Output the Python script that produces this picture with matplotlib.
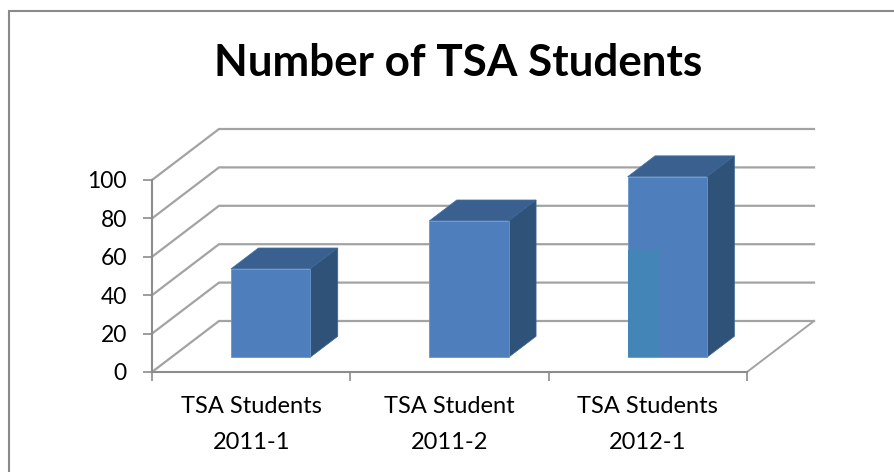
import matplotlib
matplotlib.use('Agg')
import matplotlib.pyplot as plt
from matplotlib.lines import Line2D
from matplotlib.patches import Polygon

categories = ['TSA Students\n2011-1', 'TSA Student\n2011-2', 'TSA Students\n2012-1']
values = [46, 71, 94]
# odd lighter patch at the lower left of the last bar
patch_value = 56
y_ticks = [0, 20, 40, 60, 80, 100]

W, H = 894, 472
plt.rcParams['font.family'] = ['Lato', 'DejaVu Sans']

fig = plt.figure(figsize=(W / 100, H / 100), dpi=100, facecolor='white')
# pixel box of the front plane
left, right, top, bottom = 152, 747, 180, 372
ax = fig.add_axes([left / W, 1 - bottom / H, (right - left) / W, (bottom - top) / H])
ax.set_xlim(0, 3)
ax.set_ylim(0, 100)
ax.patch.set_alpha(0)

# oblique depth of the box, in data units
depth_x = 67 / ((right - left) / 3)
depth_y = 51 / ((bottom - top) / 100)
front = 0.29
bar_depth = 0.41
bar_width = 0.40

grid_c = '#a3a3a3'
axis_c = '#8c8c8c'
for v in y_ticks:
    ax.plot([0, depth_x, 3 + depth_x], [v, v + depth_y, v + depth_y], color=grid_c, lw=1.6,
            clip_on=False, zorder=1, solid_joinstyle='miter')
ax.plot([3, 3 + depth_x], [0, depth_y], color=grid_c, lw=1.4, clip_on=False, zorder=1)

x_pos = [i + 0.5 for i in range(len(values))]
fx = [x + front * depth_x for x in x_pos]
base = front * depth_y
dx, dy = bar_depth * depth_x, bar_depth * depth_y

for x, v in zip(fx, values):
    l, r = x - bar_width / 2, x + bar_width / 2
    t = base + v
    ax.add_patch(Polygon([(l, t), (r, t), (r + dx, t + dy), (l + dx, t + dy)], closed=True,
                         facecolor='#3a6090', edgecolor='#4472a8', lw=0.5, zorder=3, clip_on=False))
    ax.add_patch(Polygon([(r, base), (r + dx, base + dy), (r + dx, t + dy), (r, t)], closed=True,
                         facecolor='#2f5279', edgecolor='#3a6494', lw=0.5, zorder=3, clip_on=False))
ax.bar(fx, values, width=bar_width, bottom=base, color='#4e7fbc', edgecolor='#6a96cc', lw=0.6,
       zorder=4, clip_on=False)
ax.bar(fx[2] - bar_width / 2 + 0.08, patch_value, width=0.16, bottom=base, color='#4385b6',
       zorder=5, clip_on=False)

for s in ['top', 'right']:
    ax.spines[s].set_visible(False)
for s in ['left', 'bottom']:
    ax.spines[s].set_color(axis_c)
    ax.spines[s].set_linewidth(1.5)
    ax.spines[s].set_zorder(2)

ax.set_yticks(y_ticks)
ax.set_xticks(range(len(values) + 1))
ax.set_xticklabels([])
ax.set_xticks(x_pos, minor=True)
ax.set_xticklabels(categories, minor=True, fontsize=17, color='black', linespacing=1.85)
ax.tick_params(axis='x', which='major', length=6.5, width=1.2, color=axis_c)
ax.tick_params(axis='x', which='minor', length=0, pad=17.5)
ax.tick_params(axis='y', length=6.5, width=1.2, color=axis_c, labelsize=16.5, pad=11.5)

fig.text(458.5 / W, 1 - 63 / H, 'Number of TSA Students', fontsize=31.7, fontweight='bold',
         ha='center', va='center', color='black')

# outer chart frame, runs off the right and bottom of the crop
fig.add_artist(Line2D([9 / W, 9 / W, 1], [0, 1 - 10.5 / H, 1 - 10.5 / H], color='#8a8a8a', lw=1.5,
                      transform=fig.transFigure, solid_joinstyle='miter'))

fig.savefig('out.png', dpi=100, facecolor='white')
